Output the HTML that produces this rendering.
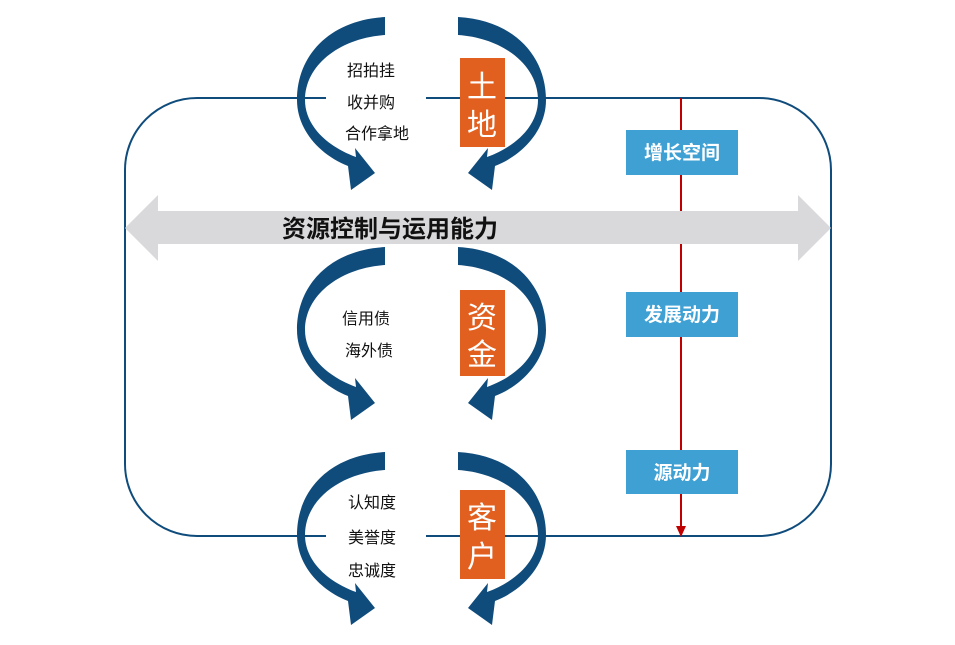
<!DOCTYPE html>
<html><head><meta charset="utf-8"><style>
body{margin:0;background:#fff}
svg text{font-family:"Liberation Sans","Noto Sans CJK SC",sans-serif}
</style></head><body>
<svg width="955" height="640" viewBox="0 0 955 640" xmlns="http://www.w3.org/2000/svg">
<defs>
<g id="la">
<path d="M385,247 C330,250 297,285 297,330 C297,360 320,385 348,396 L351,420 L375,403 L355,378 L356,387 C326,376 305,355 305,330 C305,295 340,268 385,265 Z" fill="#0f4c7c"/>
</g>
<g id="pair">
<use href="#la"/>
<use href="#la" transform="translate(843,0) scale(-1,1)"/>
</g>
</defs>
<rect x="125" y="98" width="706" height="438" rx="72" ry="72" fill="none" stroke="#0f4c7c" stroke-width="2"/>
<line x1="681" y1="98" x2="681" y2="528" stroke="#c00000" stroke-width="2"/>
<polygon points="676,526 686,526 681,537" fill="#c00000"/>
<polygon points="125,228 158,195 158,211 798,211 798,195 831,228 798,261 798,244 158,244 158,261" fill="#d9d9db"/>
<text x="282" y="237" font-size="24" font-weight="bold" fill="#111">资源控制与运用能力</text>
<rect x="326" y="90" width="100" height="24" fill="#fff"/>
<rect x="326" y="524" width="100" height="24" fill="#fff"/>
<use href="#pair" transform="translate(0,-230)"/>
<use href="#pair"/>
<use href="#pair" transform="translate(0,205)"/>
<g font-size="16" fill="#111">
<text x="347" y="76">招拍挂</text>
<text x="347" y="108">收并购</text>
<text x="345" y="139">合作拿地</text>
<text x="342" y="324">信用债</text>
<text x="345" y="356">海外债</text>
<text x="348" y="508">认知度</text>
<text x="348" y="543">美誉度</text>
<text x="348" y="576">忠诚度</text>
</g>
<g fill="#e2601f">
<rect x="460" y="58" width="45" height="89"/>
<rect x="460" y="290" width="45" height="86"/>
<rect x="460" y="490" width="45" height="89"/>
</g>
<g font-size="30" fill="#fff" text-anchor="middle">
<text x="482" y="97">土</text><text x="482" y="135">地</text>
<text x="482" y="328">资</text><text x="482" y="365">金</text>
<text x="482" y="528">客</text><text x="482" y="567">户</text>
</g>
<g fill="#3fa0d4">
<rect x="626" y="130" width="112" height="45"/>
<rect x="626" y="292" width="112" height="45"/>
<rect x="626" y="450" width="112" height="44"/>
</g>
<g font-size="19" font-weight="bold" fill="#fff" text-anchor="middle">
<text x="682" y="159">增长空间</text>
<text x="682" y="321">发展动力</text>
<text x="682" y="479">源动力</text>
</g>
</svg>
</body></html>
